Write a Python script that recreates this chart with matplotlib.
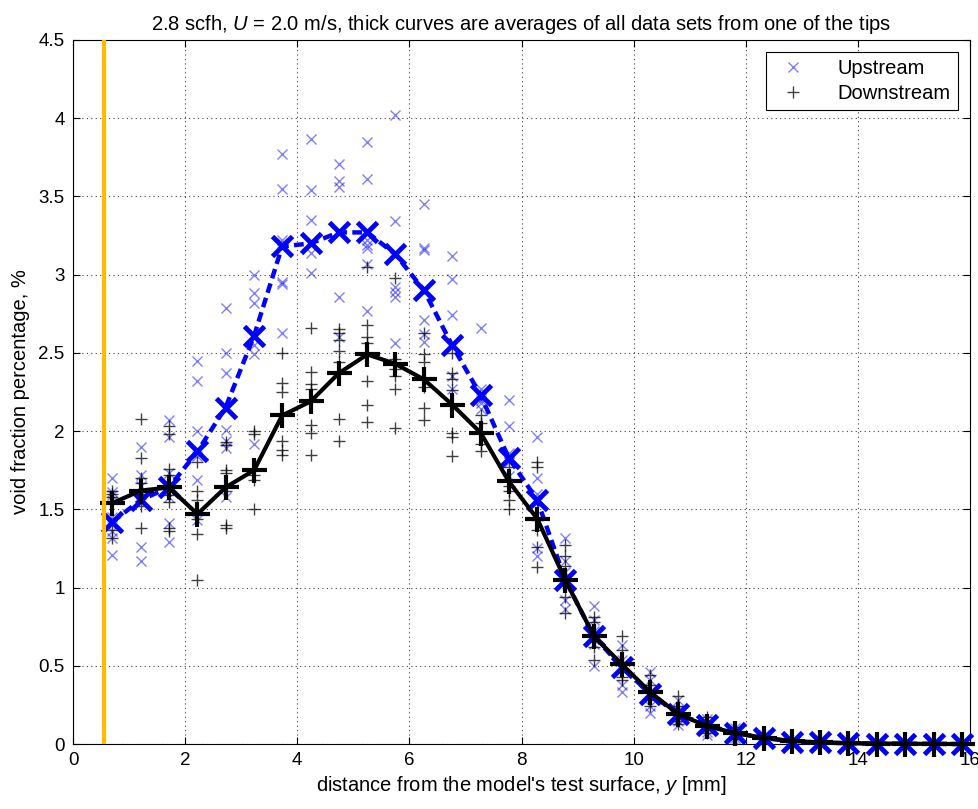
import matplotlib
matplotlib.use("Agg")
import matplotlib.pyplot as plt
from matplotlib.ticker import FuncFormatter, MultipleLocator

plt.rcParams["font.family"] = ["Liberation Sans", "DejaVu Sans"]
plt.rcParams["mathtext.fontset"] = "custom"
plt.rcParams["mathtext.rm"] = "Liberation Sans"
plt.rcParams["mathtext.it"] = "Liberation Sans:italic"

# probe positions, mm from the test surface
y_pos = [0.70, 1.21, 1.71, 2.22, 2.72, 3.23, 3.73, 4.24, 4.74, 5.25, 5.75,
         6.26, 6.76, 7.27, 7.77, 8.28, 8.78, 9.29, 9.79, 10.30, 10.80, 11.31,
         11.81, 12.32, 12.82, 13.33, 13.83, 14.34, 14.84, 15.35, 15.85]

# averaged void fraction (%) for each tip
up_mean = [1.42, 1.56, 1.64, 1.87, 2.15, 2.61, 3.18, 3.20, 3.27, 3.27, 3.13,
           2.90, 2.55, 2.23, 1.83, 1.56, 1.05, 0.69, 0.49, 0.32, 0.19, 0.12,
           0.07, 0.04, 0.015, 0.01, 0.005, 0.003, 0.002, 0.001, 0.0]
down_mean = [1.54, 1.62, 1.64, 1.47, 1.64, 1.75, 2.10, 2.19, 2.37, 2.49, 2.43,
             2.33, 2.17, 1.99, 1.68, 1.44, 1.05, 0.69, 0.51, 0.33, 0.19, 0.115,
             0.07, 0.04, 0.02, 0.01, 0.005, 0.003, 0.002, 0.001, 0.0]

# individual data sets at each position (upstream tip)
up_sets = [
    [1.70, 1.61, 1.59, 1.45, 1.36, 1.32, 1.21],
    [1.90, 1.72, 1.60, 1.55, 1.26, 1.17, 1.65],
    [2.07, 1.96, 1.73, 1.64, 1.58, 1.41, 1.29],
    [2.45, 2.32, 2.00, 1.84, 1.69, 1.43],
    [2.79, 2.50, 2.37, 2.01, 1.94, 1.89, 1.58],
    [3.00, 2.88, 2.82, 2.49, 1.92, 2.55],
    [3.77, 3.55, 3.22, 3.20, 2.95, 2.94, 2.63],
    [3.87, 3.54, 3.35, 3.21, 3.14, 3.01],
    [3.71, 3.60, 3.56, 3.27, 2.86, 2.60],
    [3.85, 3.61, 3.22, 3.19, 3.17, 3.07, 2.77],
    [4.02, 3.34, 2.92, 2.89, 2.86, 2.56],
    [3.45, 3.17, 3.16, 2.71, 2.62, 2.57],
    [3.12, 2.97, 2.74, 2.55, 2.35, 2.27],
    [2.66, 2.27, 2.20, 2.18, 2.14],
    [2.20, 2.03, 1.86, 1.80, 1.71],
    [1.96, 1.70, 1.60, 1.56, 1.25, 1.20],
    [1.32, 1.17, 1.10, 1.05, 0.92, 0.86],
    [0.88, 0.79, 0.72, 0.64, 0.50],
    [0.63, 0.54, 0.49, 0.38, 0.33],
    [0.46, 0.41, 0.33, 0.24, 0.20],
    [0.28, 0.22, 0.19, 0.15, 0.12],
    [0.16, 0.13, 0.11, 0.08, 0.06],
    [0.10, 0.08, 0.06, 0.04, 0.02],
    [0.06, 0.04, 0.03, 0.02],
    [0.02, 0.015, 0.01],
    [0.012, 0.008],
    [0.006, 0.004],
    [0.003, 0.002],
    [0.002, 0.001],
    [0.001, 0.0],
    [0.0, 0.0],
]

# individual data sets at each position (downstream tip)
down_sets = [
    [1.62, 1.60, 1.58, 1.55, 1.37, 1.32],
    [2.08, 1.83, 1.70, 1.67, 1.60, 1.52, 1.38],
    [2.03, 1.98, 1.76, 1.72, 1.59, 1.55, 1.38, 1.36],
    [1.80, 1.62, 1.56, 1.47, 1.44, 1.34, 1.05],
    [1.93, 1.91, 1.75, 1.73, 1.62, 1.40, 1.38],
    [2.00, 1.98, 1.75, 1.72, 1.69, 1.50],
    [2.50, 2.31, 2.25, 1.94, 1.88, 1.85],
    [2.66, 2.38, 2.30, 2.27, 2.04, 1.99, 1.85],
    [2.65, 2.63, 2.58, 2.51, 2.44, 2.08, 1.94],
    [3.05, 2.68, 2.60, 2.56, 2.32, 2.17, 2.06],
    [2.98, 2.46, 2.40, 2.35, 2.27, 2.02],
    [2.63, 2.49, 2.44, 2.28, 2.15, 2.07],
    [2.50, 2.37, 2.33, 2.26, 2.17, 1.99, 1.96, 1.84],
    [2.10, 2.05, 1.99, 1.92, 1.87],
    [1.77, 1.69, 1.65, 1.62, 1.56, 1.50],
    [1.80, 1.77, 1.43, 1.37, 1.26, 1.13],
    [1.27, 1.20, 1.14, 1.05, 0.94, 0.84],
    [0.81, 0.78, 0.69, 0.62, 0.54],
    [0.69, 0.60, 0.51, 0.43, 0.41],
    [0.44, 0.38, 0.33, 0.28, 0.24],
    [0.31, 0.24, 0.19, 0.15, 0.13],
    [0.17, 0.14, 0.11, 0.09, 0.07],
    [0.11, 0.08, 0.07, 0.05, 0.03],
    [0.06, 0.05, 0.03, 0.02],
    [0.03, 0.02, 0.01],
    [0.012, 0.008],
    [0.006, 0.004],
    [0.003, 0.002],
    [0.002, 0.001],
    [0.001, 0.0],
    [0.0, 0.0],
]

surface_edge = 0.55  # mm, location of the model surface reference line

title = r"2.8 scfh, $U$ = 2.0 m/s, thick curves are averages of all data sets from one of the tips"
xlabel = r"distance from the model's test surface, $y$ [mm]"
ylabel = "void fraction percentage, %"

fig = plt.figure(figsize=(9.79, 8.09), dpi=100)
ax = fig.add_axes([0.0746, 0.0803, 0.9162, 0.8703])

# scatter of individual data sets
ux, uy, dx, dy = [], [], [], []
for x, vals in zip(y_pos, up_sets):
    ux += [x] * len(vals)
    uy += vals
for x, vals in zip(y_pos, down_sets):
    dx += [x] * len(vals)
    dy += vals

ax.plot(ux, uy, linestyle="none", marker="x", color="blue", alpha=0.5,
        markersize=7, markeredgewidth=1.0, label="Upstream")
ax.plot(dx, dy, linestyle="none", marker="+", color="black", alpha=0.75,
        markersize=9, markeredgewidth=1.0, label="Downstream")

# averaged curves
ax.plot(y_pos, up_mean, linestyle=(0, (2.2, 1.2)), color="blue", linewidth=3.2,
        marker="x", markersize=14, markeredgewidth=3.5, clip_on=False, zorder=4)
ax.plot(y_pos, down_mean, linestyle="-", color="black", linewidth=3.0,
        marker="+", markersize=18, markeredgewidth=3.0, clip_on=False, zorder=5)

ax.axvline(surface_edge, color="#FFBB00", linewidth=3, zorder=6)

ax.set_xlim(0, 16)
ax.set_ylim(0, 4.5)
ax.xaxis.set_major_locator(MultipleLocator(2))
ax.yaxis.set_major_locator(MultipleLocator(0.5))
fmt = FuncFormatter(lambda v, p: f"{v:g}")
ax.xaxis.set_major_formatter(fmt)
ax.yaxis.set_major_formatter(fmt)
ax.tick_params(direction="in", length=5, width=0.8, top=True, right=True,
               labelsize=13.5, pad=6)
ax.grid(True, linestyle=(0, (1, 3)), color="black", linewidth=0.8, alpha=0.75)
for s in ax.spines.values():
    s.set_linewidth(0.8)

ax.set_title(title, fontsize=14.5, pad=7)
ax.set_xlabel(xlabel, fontsize=14.5, labelpad=3)
ax.set_ylabel(ylabel, fontsize=14.5, labelpad=6)

leg = ax.legend(loc="upper right", bbox_to_anchor=(0.9866, 0.983),
                fontsize=14.5, fancybox=False, framealpha=1,
                edgecolor="black", borderpad=0.35, handletextpad=1.2,
                handlelength=2.0, labelspacing=0.3, borderaxespad=0.0)
leg.get_frame().set_linewidth(0.8)

fig.savefig("out.png", dpi=100)
